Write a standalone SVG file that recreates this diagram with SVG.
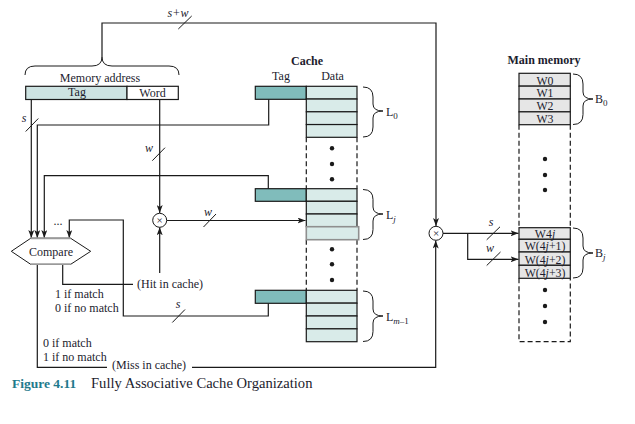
<svg xmlns="http://www.w3.org/2000/svg" width="635" height="424" viewBox="0 0 635 424">
<defs>
<marker id="ah" markerWidth="8" markerHeight="6" refX="8" refY="3" orient="auto" markerUnits="userSpaceOnUse">
<path d="M0,0 L8,3 L0,6 L2,3 z" fill="#1a1a1a"/>
</marker>
<style>
text{font-family:"Liberation Serif","Times New Roman",serif;fill:#1c1c2e;font-size:12px}
.c{text-anchor:middle}
.b{font-weight:bold}
.i{font-style:italic}
.ln{fill:none;stroke:#1a1a1a;stroke-width:1.2}
.ar{fill:none;stroke:#1a1a1a;stroke-width:1.2;marker-end:url(#ah)}
.sl{stroke:#1a1a1a;stroke-width:1}
.dash{fill:none;stroke:#1a1a1a;stroke-width:1.2;stroke-dasharray:5,3}
.tagm{fill:#cde3e2;stroke:#1a1a1a;stroke-width:1.2}
.ctag{fill:#80bcbb;stroke:#1a1a1a;stroke-width:1.2}
.dat{fill:#d9ebe9;stroke:#1a1a1a;stroke-width:1.2}
.mm{fill:#e6e6e6;stroke:#1a1a1a;stroke-width:1.2}
.br{fill:none;stroke:#1a1a1a;stroke-width:1}
.dot{fill:#1a1a1a}
.mw{font-size:11.8px}
.sub{font-size:9px}
.cap{font-size:13.5px}
.cap2{font-size:14.6px}
.x{font-size:11px}
</style>
</defs>
<rect width="635" height="424" fill="#ffffff"/>

<g id="connectors">
<path class="ar" d="M102,57 V23 H436 V226"/>
<path class="ar" d="M31.3,99.5 V238"/>
<path class="ar" d="M268.7,99.3 V125 H37.3 V238"/>
<path class="ar" d="M268.3,188.7 V175.7 H44.3 V238"/>
<path class="ar" d="M268.3,303.3 V316 H123.3 V220 H69.3 V238"/>
<path class="ar" d="M159.7,99.5 V213"/>
<path class="ar" d="M166.7,220.5 H305.5"/>
<path class="ln" d="M62.7,264.3 V284.3 H133"/>
<path class="ar" d="M159.7,273 V227.3"/>
<path class="ln" d="M37.3,264.3 V367.3 H107"/>
<path class="ar" d="M192,367.3 H435.7 V240.5"/>
<path class="ar" d="M443,233.3 H518.5"/>
<path class="ar" d="M467.7,233.3 V259.3 H518.5"/>
<line class="sl" x1="178.3" y1="29" x2="191.7" y2="16"/>
<line class="sl" x1="25.7" y1="131.5" x2="38.3" y2="118.5"/>
<line class="sl" x1="152.3" y1="160.7" x2="165" y2="147.7"/>
<line class="sl" x1="203.5" y1="227" x2="216" y2="214"/>
<line class="sl" x1="172.3" y1="322.5" x2="185" y2="309.5"/>
<line class="sl" x1="486.7" y1="239.8" x2="500" y2="226.8"/>
<line class="sl" x1="486.7" y1="265.5" x2="500.5" y2="252"/>
<text x="178" y="16.5" class="c i">s+w</text>
<text x="24" y="122" class="c i">s</text>
<text x="149" y="152" class="c i">w</text>
<text x="208" y="215.5" class="c i">w</text>
<text x="178" y="307.5" class="c i">s</text>
<text x="491" y="226" class="c i">s</text>
<text x="490" y="252" class="c i">w</text>
<text x="58" y="225" class="c">...</text>
</g>

<g id="memory-address">
<path class="br" d="M25,75 Q25,66 35,66 L92,66 Q102,66 102,57 Q102,66 112,66 L169,66 Q179,66 179,75"/>
<text x="100" y="81.5" class="c">Memory address</text>
<rect class="tagm" x="25.7" y="86.3" width="101.3" height="13.2"/>
<rect x="127" y="86.3" width="51.3" height="13.2" fill="#ffffff" stroke="#1a1a1a" stroke-width="1.2"/>
<text x="77" y="95.5" class="c">Tag</text>
<text x="152.5" y="96.5" class="c">Word</text>
</g>

<g id="cache">
<text x="307" y="65" class="c b">Cache</text>
<text x="281" y="80" class="c">Tag</text>
<text x="332.5" y="80" class="c">Data</text>
<path class="dash" d="M306.3,137.3 V188.7 M357,137.3 V188.7 M306.3,239.7 V290.3 M357,239.7 V290.3"/>
<circle class="dot" cx="332" cy="148.3" r="2.2"/>
<circle class="dot" cx="332" cy="164" r="2.2"/>
<circle class="dot" cx="332" cy="179.3" r="2.2"/>
<circle class="dot" cx="332" cy="249.3" r="2.2"/>
<circle class="dot" cx="332" cy="264.3" r="2.2"/>
<circle class="dot" cx="332" cy="280" r="2.2"/>
</g>

<g id="line-L0">
<rect class="ctag" x="255.3" y="86.3" width="51" height="13"/>
<rect class="dat" x="306.3" y="86.3" width="50.7" height="12.75"/>
<rect class="dat" x="306.3" y="99.05" width="50.7" height="12.75"/>
<rect class="dat" x="306.3" y="111.8" width="50.7" height="12.75"/>
<rect class="dat" x="306.3" y="124.55" width="50.7" height="12.75"/>
<path class="br" d="M363,87 Q373,87 373,97 L373,104 Q373,111 383,111 Q373,111 373,118 L373,127 Q373,137 363,137"/>
<text x="386" y="115.5">L<tspan class="sub" dy="3">0</tspan></text>
</g>

<g id="line-Lj">
<rect class="ctag" x="255.3" y="188.7" width="51" height="12.6"/>
<rect class="dat" x="306.3" y="188.7" width="50.7" height="12.6"/>
<rect class="dat" x="306.3" y="201.3" width="50.7" height="12.7"/>
<rect class="dat" x="306.3" y="214" width="50.7" height="12.7"/>
<rect x="306.3" y="226.7" width="52.4" height="13" fill="#d9ebe9" stroke="#8f8f8f" stroke-width="1.6"/>
<path class="br" d="M363,189.5 Q373,189.5 373,199.5 L373,207 Q373,214 383,214 Q373,214 373,221 L373,229.5 Q373,239.5 363,239.5"/>
<text x="386" y="218.5">L<tspan class="sub i" dy="3">j</tspan></text>
</g>

<g id="line-Lm1">
<rect class="ctag" x="255.3" y="290.3" width="51" height="13"/>
<rect class="dat" x="306.3" y="290.3" width="50.7" height="12.85"/>
<rect class="dat" x="306.3" y="303.15" width="50.7" height="12.85"/>
<rect class="dat" x="306.3" y="316" width="50.7" height="12.85"/>
<rect class="dat" x="306.3" y="328.85" width="50.7" height="12.85"/>
<path class="br" d="M363,291 Q373,291 373,301 L373,309 Q373,316 383,316 Q373,316 373,323 L373,331.5 Q373,341.5 363,341.5"/>
<text x="386" y="320.5">L<tspan class="sub" dy="3"><tspan class="i">m</tspan>–1</tspan></text>
</g>

<g id="compare">
<path d="M11.3,251.3 L30.7,238.3 L70.7,238.3 L90.7,251.3 L70.7,264.3 L30.7,264.3 Z" fill="#ffffff" stroke="#1a1a1a" stroke-width="1"/>
<line x1="30.7" y1="238.3" x2="70.7" y2="238.3" stroke="#9a9a9a" stroke-width="2"/>
<line x1="30.7" y1="264.3" x2="70.7" y2="264.3" stroke="#9a9a9a" stroke-width="1.6"/>
<text x="51" y="255.5" class="c">Compare</text>
</g>

<g id="mux-cache">
<circle cx="159.7" cy="220.3" r="7" fill="#ffffff" stroke="#1a1a1a" stroke-width="1"/>
<text x="159.7" y="224" class="c x">×</text>
</g>

<g id="mux-memory">
<circle cx="436" cy="233.3" r="7" fill="#ffffff" stroke="#1a1a1a" stroke-width="1"/>
<text x="436" y="237" class="c x">×</text>
</g>

<g id="hit-label">
<text x="137" y="287.5">(Hit in cache)</text>
<text x="55" y="297.5">1 if match</text>
<text x="55" y="312">0 if no match</text>
</g>

<g id="miss-label">
<text x="43" y="346.5">0 if match</text>
<text x="43" y="361">1 if no match</text>
<text x="112" y="368.5">(Miss in cache)</text>
</g>

<g id="main-memory">
<text x="544" y="64" class="c b">Main memory</text>
<rect class="mm" x="519" y="73.3" width="51.3" height="12.85"/>
<rect class="mm" x="519" y="86.15" width="51.3" height="12.85"/>
<rect class="mm" x="519" y="99" width="51.3" height="12.85"/>
<rect class="mm" x="519" y="111.85" width="51.3" height="12.85"/>
<text x="545" y="84.5" class="c mw">W0</text>
<text x="545" y="97.3" class="c mw">W1</text>
<text x="545" y="110" class="c mw">W2</text>
<text x="545" y="122.8" class="c mw">W3</text>
<path class="br" d="M573,74 Q583,74 583,84 L583,92 Q583,99 593,99 Q583,99 583,106 L583,114.5 Q583,124.5 573,124.5"/>
<text x="595" y="103">B<tspan class="sub" dy="3">0</tspan></text>
<path class="dash" d="M519,124.7 V227.7 M570.3,124.7 V227.7 M519,278.3 V341.7 H570.3 V278.3"/>
<circle class="dot" cx="545" cy="159" r="2.2"/>
<circle class="dot" cx="545" cy="175" r="2.2"/>
<circle class="dot" cx="545" cy="190" r="2.2"/>
<rect class="mm" x="519" y="227.7" width="51.3" height="11.6"/>
<rect class="mm" x="519" y="239.3" width="51.3" height="12.7"/>
<rect class="mm" x="519" y="252" width="51.3" height="13.3"/>
<rect class="mm" x="519" y="265.3" width="51.3" height="13"/>
<text x="545" y="237.8" class="c mw">W4<tspan class="i">j</tspan></text>
<text x="545" y="250.3" class="c mw">W(4<tspan class="i">j</tspan>+1)</text>
<text x="545" y="263.5" class="c mw">W(4<tspan class="i">j</tspan>+2)</text>
<text x="545" y="276.5" class="c mw">W(4<tspan class="i">j</tspan>+3)</text>
<path class="br" d="M573,228 Q583,228 583,238 L583,246 Q583,253 593,253 Q583,253 583,260 L583,268 Q583,278 573,278"/>
<text x="595" y="257">B<tspan class="sub i" dy="3">j</tspan></text>
<circle class="dot" cx="545" cy="290" r="2.2"/>
<circle class="dot" cx="545" cy="306" r="2.2"/>
<circle class="dot" cx="545" cy="322" r="2.2"/>
</g>

<g id="caption">
<text x="12" y="388" class="b cap" style="fill:#1f7a8c">Figure 4.11</text>
<text x="91" y="388" class="cap2">Fully Associative Cache Organization</text>
</g>
</svg>
